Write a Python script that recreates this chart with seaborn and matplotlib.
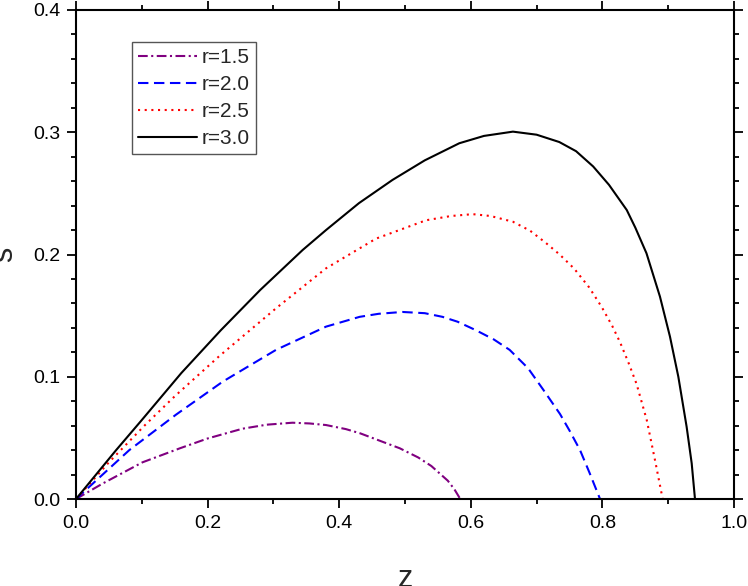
import matplotlib
matplotlib.use("Agg")
import matplotlib.pyplot as plt
import seaborn as sns
from matplotlib.ticker import MultipleLocator, FormatStrFormatter

# Values (z, s) for each r
z_r15 = [0, 0.04, 0.101, 0.158, 0.2, 0.253, 0.29, 0.329, 0.355, 0.38, 0.41, 0.432, 0.46,
         0.492, 0.52, 0.54, 0.565, 0.575, 0.584]
s_r15 = [0, 0.0125, 0.030, 0.0415, 0.0495, 0.0575, 0.0608, 0.0624, 0.0618, 0.0605, 0.0572, 0.0537, 0.048,
         0.0415, 0.034, 0.027, 0.015, 0.008, 0]

z_r20 = [0, 0.081, 0.152, 0.223, 0.304, 0.38, 0.431, 0.46, 0.496, 0.53, 0.557, 0.58, 0.608, 0.635,
         0.659, 0.687, 0.71, 0.7356, 0.75, 0.766, 0.78, 0.7964]
s_r20 = [0, 0.040, 0.069, 0.096, 0.122, 0.141, 0.149, 0.1515, 0.153, 0.152, 0.149, 0.145, 0.138, 0.1305,
         0.122, 0.107, 0.0895, 0.0695, 0.056, 0.040, 0.022, 0]

z_r25 = [0, 0.05, 0.104, 0.15, 0.218, 0.304, 0.38, 0.456, 0.532, 0.57, 0.603, 0.63, 0.664, 0.69,
         0.714, 0.735, 0.757, 0.78, 0.799, 0.815, 0.827, 0.84, 0.852, 0.8674, 0.8799, 0.8916]
s_r25 = [0, 0.030, 0.060, 0.084, 0.117, 0.156, 0.1887, 0.213, 0.228, 0.2315, 0.233, 0.2315, 0.2268, 0.2195,
         0.2095, 0.200, 0.1885, 0.173, 0.157, 0.1415, 0.128, 0.111, 0.094, 0.0646, 0.0319, 0]

z_r30 = [0, 0.061, 0.10, 0.16, 0.22, 0.28, 0.3445, 0.38, 0.43, 0.481, 0.53, 0.5825, 0.62, 0.664, 0.70,
         0.7345, 0.76, 0.786, 0.81, 0.837, 0.85, 0.867, 0.8875, 0.9027, 0.9154, 0.928, 0.9357, 0.9407]
s_r30 = [0, 0.040, 0.0646, 0.103, 0.138, 0.171, 0.2037, 0.220, 0.242, 0.261, 0.277, 0.291, 0.297, 0.3005, 0.298,
         0.292, 0.2845, 0.272, 0.257, 0.2364, 0.222, 0.201, 0.1655, 0.1328, 0.100, 0.0591, 0.0292, 0]

labels = ["r=1.5", "r=2.0", "r=2.5", "r=3.0"]
x_ticks = [0.0, 0.2, 0.4, 0.6, 0.8, 1.0]
y_ticks = [0.0, 0.1, 0.2, 0.3, 0.4]

sns.set_style("ticks")
plt.rcParams["font.family"] = ["Liberation Sans", "DejaVu Sans"]
plt.rcParams["lines.scale_dashes"] = False

fig = plt.figure(figsize=(7.48, 5.86), dpi=100)
ax = fig.add_axes([76 / 748, 1 - 499 / 586, 658 / 748, 489 / 586])

sns.lineplot(x=z_r15, y=s_r15, ax=ax, color="#800080", lw=1.5, linestyle=(0, (7, 2.5, 1.5, 2.5)),
             label=labels[0], sort=False, estimator=None)
sns.lineplot(x=z_r20, y=s_r20, ax=ax, color="#0000FF", lw=1.5, linestyle=(0, (7.5, 4)),
             label=labels[1], sort=False, estimator=None)
sns.lineplot(x=z_r25, y=s_r25, ax=ax, color="#FF0000", lw=1.5, linestyle=(0, (1.5, 3.3)),
             label=labels[2], sort=False, estimator=None)
sns.lineplot(x=z_r30, y=s_r30, ax=ax, color="black", lw=1.5,
             label=labels[3], sort=False, estimator=None)

ax.set_xlim(0, 1.0)
ax.set_ylim(0, 0.4)
ax.set_xticks(x_ticks)
ax.set_yticks(y_ticks)
ax.xaxis.set_minor_locator(MultipleLocator(0.1))
ax.yaxis.set_minor_locator(MultipleLocator(0.02))
ax.xaxis.set_major_formatter(FormatStrFormatter("%.1f"))
ax.yaxis.set_major_formatter(FormatStrFormatter("%.1f"))

ax.tick_params(which="both", direction="out", top=True, right=True,
               labeltop=False, labelright=False, colors="black", labelsize=14)
ax.tick_params(which="major", length=6.5, width=1.3, pad=5)
ax.tick_params(which="minor", length=3.5, width=1.3)
for sp in ax.spines.values():
    sp.set_linewidth(1.5)
    sp.set_color("black")

ax.set_xlabel("z", fontsize=22)
ax.set_ylabel("s", fontsize=22)
ax.xaxis.set_label_coords(0.5, -0.132)
ax.yaxis.set_label_coords(-0.087, 0.5)

leg = ax.legend(loc="upper left", bbox_to_anchor=(0.085, 0.9346), borderaxespad=0,
                fontsize=15, frameon=True, fancybox=False, framealpha=1,
                edgecolor="#555555", handlelength=2.8, handletextpad=0.25,
                labelspacing=0.38, borderpad=0.3)
leg.get_frame().set_linewidth(1.0)

fig.savefig("out.png", dpi=100)
